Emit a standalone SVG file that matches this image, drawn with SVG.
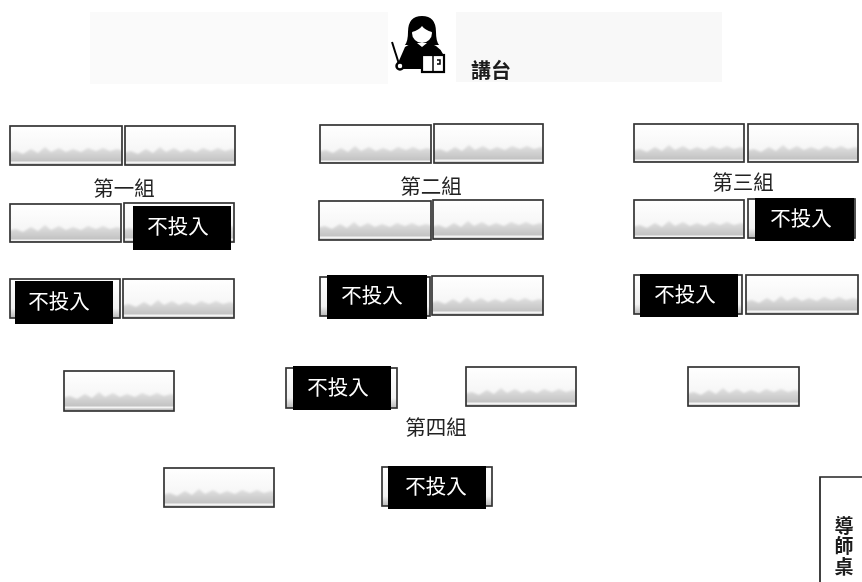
<svg xmlns="http://www.w3.org/2000/svg" width="862" height="582" viewBox="0 0 862 582">
<style>
.d{fill:url(#p);stroke:#333;stroke-width:1.7}
.o{fill:url(#e);stroke:#333;stroke-width:1.7}
.b{fill:#000}
.w{fill:#fff;font-family:"Noto Sans CJK TC",sans-serif;font-size:20.5px;text-anchor:middle}
.l{fill:#222;font-family:"Noto Sans CJK TC",sans-serif;font-size:20.5px;text-anchor:middle}
.t{fill:#1c1c1c;font-family:"Noto Sans CJK TC",sans-serif;font-size:20px;font-weight:700;text-anchor:middle}
</style>
<defs>
<linearGradient id="g" x1="0" y1="0" x2="0" y2="1">
<stop offset="0" stop-color="#e2e2e2"/><stop offset="1" stop-color="#b8b8b8"/>
</linearGradient>
<linearGradient id="h" x1="0" y1="0" x2="0" y2="1">
<stop offset="0" stop-color="#fff"/><stop offset="1" stop-color="#f0f0f0"/>
</linearGradient>
<filter id="m" x="-5%" y="-10%" width="110%" height="120%"><feGaussianBlur stdDeviation="1.200"/></filter>
<pattern id="p" patternUnits="objectBoundingBox" x="0" y="0" width="1" height="1">
<rect width="115" height="42" fill="url(#h)"/>
<path filter="url(#m)" d="M-3 27l9 -2l7 3l8 -5l7 4l7 -6l6 5l8 -4l7 4l7 -3l8 3l7 -4l8 3l7 -3l7 3l7 -2l11 3v14h-121z" fill="url(#g)"/>
<rect y="35.500" width="115" height="2" fill="#f4f4f4"/>
</pattern>
<linearGradient id="e" x1="0" y1="0" x2="0" y2="1">
<stop offset="0" stop-color="#fff"/><stop offset=".75" stop-color="#f2f2f2"/><stop offset="1" stop-color="#b8b8b8"/>
</linearGradient>
<filter id="s" x="-2%" y="-2%" width="104%" height="104%"><feGaussianBlur stdDeviation="0.4"/></filter>
</defs>
<rect width="862" height="582" fill="#fff"/>
<g filter="url(#s)">
<g id="backdrop">
<rect x="90" y="12" width="298" height="72" fill="#fafafa"/>
<rect x="456" y="12" width="266" height="70" fill="#f8f8f8"/>
</g>
<g id="podium">
<path d="M408 32q0 -16 14 -16t14 16q0 9 3 13h-34q3 -4 3 -13z" fill="#000"/>
<circle cx="422" cy="33" r="10" fill="#fff"/>
<path d="M412 32q7 -2 10 -6q3 4 10 6v-8l-10 -5l-10 5z" fill="#000"/>
<path d="M417 43h10v3h-10z" fill="#fff"/>
<path d="M405 47q6 -4 12 -4l5 4l5 -4q11 1 16 11h-22v15h-18l-2 -5l-3 -1z" fill="#000"/>
<path d="M392 42l7 22" stroke="#000" stroke-width="2" fill="none"/>
<circle cx="400" cy="66" r="3.500" fill="#fff" stroke="#000" stroke-width="2.500"/>
<rect x="422" y="55" width="22" height="17" fill="#fff" stroke="#000" stroke-width="2.200"/>
<path d="M433 55v17M437 60h3v4h-3" stroke="#000" stroke-width="1.500" fill="none"/>
<text class="t" x="491" y="78">講台</text>
</g>
<g id="g1">
<g id="d1-1"><rect class="d" x="10" y="126" width="112" height="39"/></g>
<g id="d1-2"><rect class="d" x="125" y="126" width="110" height="39"/></g>
<text class="l" x="124" y="196">第一組</text>
<g id="d1-3"><rect class="d" x="10" y="204" width="111" height="38"/></g>
<g id="d1-4"><rect class="d" x="124" y="203" width="110" height="39"/><rect class="b" x="133" y="206" width="98" height="44"/><text class="w" x="178" y="234">不投入</text></g>
<g id="d1-5"><rect class="o" x="10" y="279" width="110" height="39"/><rect class="b" x="15" y="281" width="98" height="43"/><text class="w" x="59" y="309">不投入</text></g>
<g id="d1-6"><rect class="d" x="123" y="279" width="111" height="39"/></g>
</g>
<g id="g2">
<g id="d2-1"><rect class="d" x="320" y="125" width="111" height="38"/></g>
<g id="d2-2"><rect class="d" x="434" y="124" width="109" height="39"/></g>
<text class="l" x="431" y="194">第二組</text>
<g id="d2-3"><rect class="d" x="319" y="201" width="112" height="39"/></g>
<g id="d2-4"><rect class="d" x="433" y="200" width="110" height="39"/></g>
<g id="d2-5"><rect class="o" x="320" y="277" width="110" height="39"/><rect class="b" x="327" y="275" width="100" height="44"/><text class="w" x="372" y="303">不投入</text></g>
<g id="d2-6"><rect class="d" x="432" y="276" width="111" height="39"/></g>
</g>
<g id="g3">
<g id="d3-1"><rect class="d" x="634" y="124" width="110" height="38"/></g>
<g id="d3-2"><rect class="d" x="748" y="124" width="110" height="38"/></g>
<text class="l" x="743" y="190">第三組</text>
<g id="d3-3"><rect class="d" x="634" y="200" width="110" height="38"/></g>
<g id="d3-4"><rect class="o" x="748" y="199" width="107" height="39"/><rect class="b" x="755" y="198" width="99" height="43"/><text class="w" x="801" y="226">不投入</text></g>
<g id="d3-5"><rect class="o" x="634" y="275" width="108" height="39"/><rect class="b" x="640" y="274" width="98" height="43"/><text class="w" x="685" y="302">不投入</text></g>
<g id="d3-6"><rect class="d" x="746" y="275" width="112" height="39"/></g>
</g>
<g id="g4">
<g id="d4-1"><rect class="d" x="64" y="371" width="110" height="40"/></g>
<g id="d4-2"><rect class="o" x="286" y="368" width="111" height="40"/><rect class="b" x="293" y="366" width="98" height="44"/><text class="w" x="338" y="395">不投入</text></g>
<g id="d4-3"><rect class="d" x="466" y="367" width="110" height="39"/></g>
<g id="d4-4"><rect class="d" x="688" y="367" width="111" height="39"/></g>
<text class="l" x="436" y="435">第四組</text>
<g id="d4-5"><rect class="d" x="164" y="468" width="110" height="39"/></g>
<g id="d4-6"><rect class="o" x="382" y="467" width="110" height="39"/><rect class="b" x="388" y="466" width="98" height="43"/><text class="w" x="436" y="494">不投入</text></g>
</g>
<g id="teacher">
<path d="M863 477H820V583" fill="none" stroke="#222" stroke-width="1.700"/>
<text x="844" y="516" style="writing-mode:vertical-rl;font-family:'Noto Sans CJK TC',sans-serif;font-size:19px;font-weight:700;letter-spacing:1.500px;fill:#1c1c1c">導師桌</text>
</g>
<g id="connectors"/>
</g>
</svg>
